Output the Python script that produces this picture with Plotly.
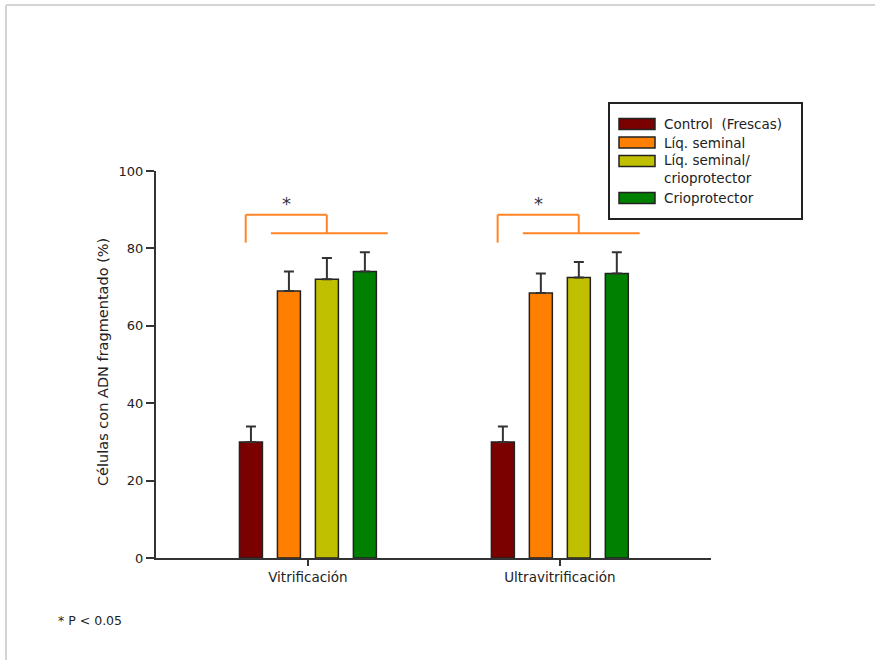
import plotly.graph_objects as go

# Data
groups = ["Vitrificación", "Ultravitrificación"]
series_names = ["Control  (Frescas)", "Líq. seminal", "Líq. seminal/<br>crioprotector", "Crioprotector"]
series_colors = ["#7b0000", "#ff8000", "#c0c000", "#008000"]
values = {
    "Control  (Frescas)": [30, 30],
    "Líq. seminal": [69, 68.5],
    "Líq. seminal/<br>crioprotector": [72, 72.5],
    "Crioprotector": [74, 73.5],
}
errors = {
    "Control  (Frescas)": [4, 4],
    "Líq. seminal": [5, 5],
    "Líq. seminal/<br>crioprotector": [5.5, 4],
    "Crioprotector": [5, 5.5],
}
y_ticks = [0, 20, 40, 60, 80, 100]

W, H = 875, 660
L, R, T, B = 156, 164, 171, 102
PW, PH = W - L - R, H - T - B


def px(x):
    return (x - L) / PW


def py(y):
    return (H - B - y) / PH


FONT = "DejaVu Sans"
TXT = "#222222"

fig = go.Figure()
xpos = list(range(len(groups)))
for name, color in zip(series_names, series_colors):
    fig.add_trace(go.Bar(
        x=xpos, y=values[name], name=name,
        marker=dict(color=color, line=dict(color="#222222", width=1.5)),
        error_y=dict(type="data", array=errors[name], arrayminus=[0] * len(groups),
                     symmetric=False, color="#333333", thickness=2, width=5),
        showlegend=False,
    ))

shapes = []
annotations = []

# Significance brackets (one per group)
for gi in range(len(groups)):
    c = "#ff8426"
    lw = 2
    shapes += [
        dict(type="line", xref="x", yref="y", x0=gi - 0.247, x1=gi - 0.247, y0=81.5, y1=88.7, line=dict(color=c, width=lw)),
        dict(type="line", xref="x", yref="y", x0=gi - 0.247, x1=gi + 0.075, y0=88.7, y1=88.7, line=dict(color=c, width=lw)),
        dict(type="line", xref="x", yref="y", x0=gi + 0.075, x1=gi + 0.075, y0=88.7, y1=83.9, line=dict(color=c, width=lw)),
        dict(type="line", xref="x", yref="y", x0=gi - 0.147, x1=gi + 0.317, y0=83.9, y1=83.9, line=dict(color=c, width=lw)),
    ]
    annotations.append(dict(x=gi - 0.085, y=91.5, xref="x", yref="y", text="*", showarrow=False,
                            font=dict(family=FONT, size=18, color="#333344")))

# Legend box
shapes.append(dict(type="rect", xref="paper", yref="paper", x0=px(609), x1=px(802), y0=py(103), y1=py(219),
                   line=dict(color="#222222", width=2), fillcolor="white"))
leg_swatch_y = [124, 142.5, 161, 198]
leg_text_y = [124, 142.5, 169, 198]
for name, color, sy, ty in zip(series_names, series_colors, leg_swatch_y, leg_text_y):
    shapes.append(dict(type="rect", xref="paper", yref="paper", x0=px(619), x1=px(655), y0=py(sy + 5.5), y1=py(sy - 5.5),
                       line=dict(color="#222222", width=1.5), fillcolor=color))
    annotations.append(dict(x=px(662), y=py(ty), xref="paper", yref="paper", text=name, showarrow=False,
                            xanchor="left", yanchor="middle", align="left",
                            font=dict(family=FONT, size=13.5, color=TXT)))

# Outer frame (top and left edges)
shapes.append(dict(type="line", xref="paper", yref="paper", x0=px(6), x1=px(880), y0=py(5), y1=py(5),
                   line=dict(color="#d4d4d4", width=2)))
shapes.append(dict(type="line", xref="paper", yref="paper", x0=px(6), x1=px(6), y0=py(5), y1=py(665),
                   line=dict(color="#d4d4d4", width=2)))

# Y axis title
annotations.append(dict(x=px(93), y=py(362), xref="paper", yref="paper", text="Células con ADN fragmentado (%)",
                        textangle=-90, showarrow=False, font=dict(family=FONT, size=14.5, color=TXT)))
# Footnote
annotations.append(dict(x=px(56), y=py(620), xref="paper", yref="paper", text="* P < 0.05", showarrow=False,
                        xanchor="left", yanchor="middle", font=dict(family=FONT, size=12.5, color=TXT)))

fig.update_layout(
    width=W, height=H,
    margin=dict(l=L, r=R, t=T, b=B),
    paper_bgcolor="white", plot_bgcolor="white",
    barmode="group", bargap=0.397, bargroupgap=0.395,
    shapes=shapes, annotations=annotations,
    font=dict(family=FONT, size=13, color=TXT),
)
fig.update_xaxes(
    range=[-0.603, 1.6], tickvals=xpos, ticktext=groups,
    showline=True, linecolor="#333333", linewidth=2,
    ticks="outside", ticklen=6, tickwidth=1.5, tickcolor="#333333",
    showgrid=False, zeroline=False, tickfont=dict(family=FONT, size=13.5, color=TXT),
)
fig.update_yaxes(
    range=[0, 100], tickvals=y_ticks,
    showline=True, linecolor="#333333", linewidth=2,
    ticks="outside", ticklen=8, tickwidth=1.5, tickcolor="#333333",
    showgrid=False, zeroline=False, tickfont=dict(family=FONT, size=13, color=TXT),
)

fig.write_html("out.html")
